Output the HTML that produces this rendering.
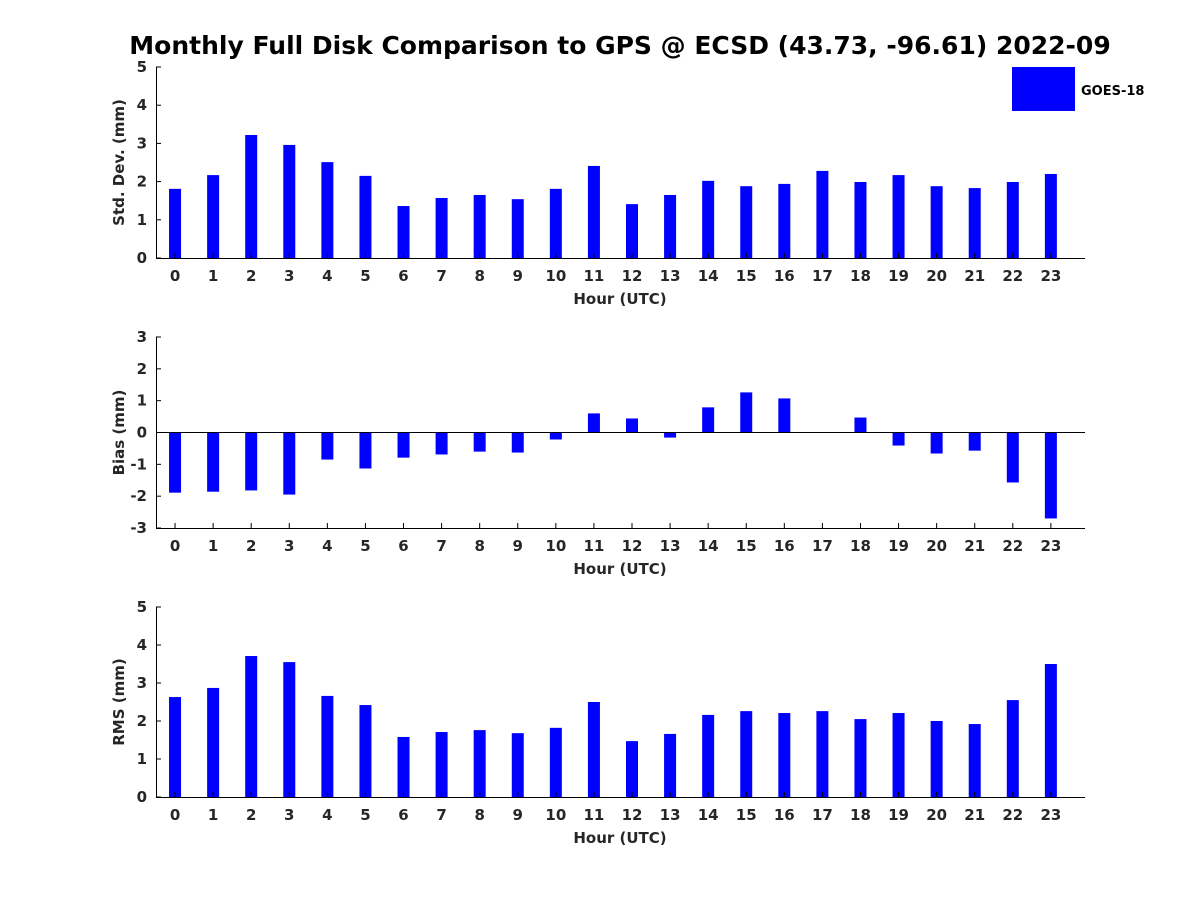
<!DOCTYPE html>
<html><head><meta charset="utf-8"><style>
body{margin:0;background:#fff}
svg text{font-family:"DejaVu Sans","Liberation Sans",sans-serif;font-weight:bold;fill:#262626}
</style></head><body>
<svg id="chart" width="1200" height="900" xmlns="http://www.w3.org/2000/svg">
<text x="620" y="54" text-anchor="middle" font-size="25" style="fill:#000">Monthly Full Disk Comparison to GPS @ ECSD (43.73, -96.61) 2022-09</text>
<rect x="1012" y="67" width="63" height="44" fill="#0000ff"/>
<text x="1081" y="95" font-size="13" style="fill:#000">GOES-18</text>
</svg>
<script>
const hours=[0,1,2,3,4,5,6,7,8,9,10,11,12,13,14,15,16,17,18,19,20,21,22,23];
const stdDev=[1.81,2.17,3.22,2.96,2.51,2.15,1.36,1.57,1.65,1.54,1.81,2.41,1.41,1.65,2.02,1.88,1.94,2.28,1.99,2.17,1.88,1.83,1.99,2.2];
const bias=[-1.89,-1.86,-1.82,-1.95,-0.85,-1.13,-0.79,-0.69,-0.6,-0.63,-0.22,0.6,0.44,-0.16,0.79,1.26,1.07,0,0.47,-0.41,-0.66,-0.57,-1.57,-2.7];
const rms=[2.63,2.87,3.71,3.55,2.66,2.42,1.58,1.71,1.76,1.68,1.82,2.5,1.47,1.66,2.16,2.26,2.21,2.26,2.05,2.21,2.0,1.92,2.55,3.5];
const stdTicks=[0,1,2,3,4,5];
const biasTicks=[-3,-2,-1,0,1,2,3];
const rmsTicks=[0,1,2,3,4,5];
const svg=document.getElementById('chart');
const NS='http://www.w3.org/2000/svg';
function mk(tag,attrs,parent){const e=document.createElementNS(NS,tag);for(const k in attrs)e.setAttribute(k,attrs[k]);(parent||svg).appendChild(e);return e;}
const X0=156,X1=1085;
function xs(h){return X0+(h+0.5)*38.08;}
function panel(name,top,bottom,ymin,ymax,ticks,vals,ylabel){
  const g=mk('g',{});
  
  
  const ys=v=>bottom-(v-ymin)/(ymax-ymin)*(bottom-top);
  vals.forEach((v,i)=>{
    const y0=ys(0),y1=ys(v);
    const r=mk('rect',{x:xs(hours[i])-6,y:Math.min(y0,y1),width:12,height:Math.max(Math.abs(y1-y0),0.01),fill:'#0000ff'},g);
    
    
  });
  if(ymin<0){mk('line',{x1:X0,x2:X1,y1:ys(0),y2:ys(0),stroke:'#000','stroke-width':1},g);}
  mk('line',{x1:X0+.5,x2:X0+.5,y1:top,y2:bottom,stroke:'#000','stroke-width':1},g);
  mk('line',{x1:X0,x2:X1,y1:bottom+.5,y2:bottom+.5,stroke:'#000','stroke-width':1},g);
  ticks.forEach(t=>{
    const y=ys(t);
    mk('line',{x1:X0,x2:X0+5,y1:y,y2:y,stroke:'#000'},g);
    const tx=mk('text',{x:X0-9,y:y+5,'text-anchor':'end','font-size':15},g);tx.textContent=t;
    
    
  });
  hours.forEach(h=>{
    mk('line',{x1:xs(h),x2:xs(h),y1:bottom,y2:bottom-5,stroke:'#000'},g);
    const tx=mk('text',{x:xs(h),y:bottom+23,'text-anchor':'middle','font-size':15},g);tx.textContent=h;
    
    
  });
  const xl=mk('text',{x:620,y:bottom+46,'text-anchor':'middle','font-size':15},g);xl.textContent='Hour (UTC)';
  
  
  const cy=(top+bottom)/2;
  const yl=mk('text',{x:124,y:cy,'text-anchor':'middle','font-size':15,transform:`rotate(-90 124 ${cy})`},g);yl.textContent=ylabel;
  
  
}
panel('std-dev',67,258,0,5,stdTicks,stdDev,'Std. Dev. (mm)');
panel('bias',337,528,-3,3,biasTicks,bias,'Bias (mm)');
panel('rms',607,797,0,5,rmsTicks,rms,'RMS (mm)');
</script>
</body></html>
